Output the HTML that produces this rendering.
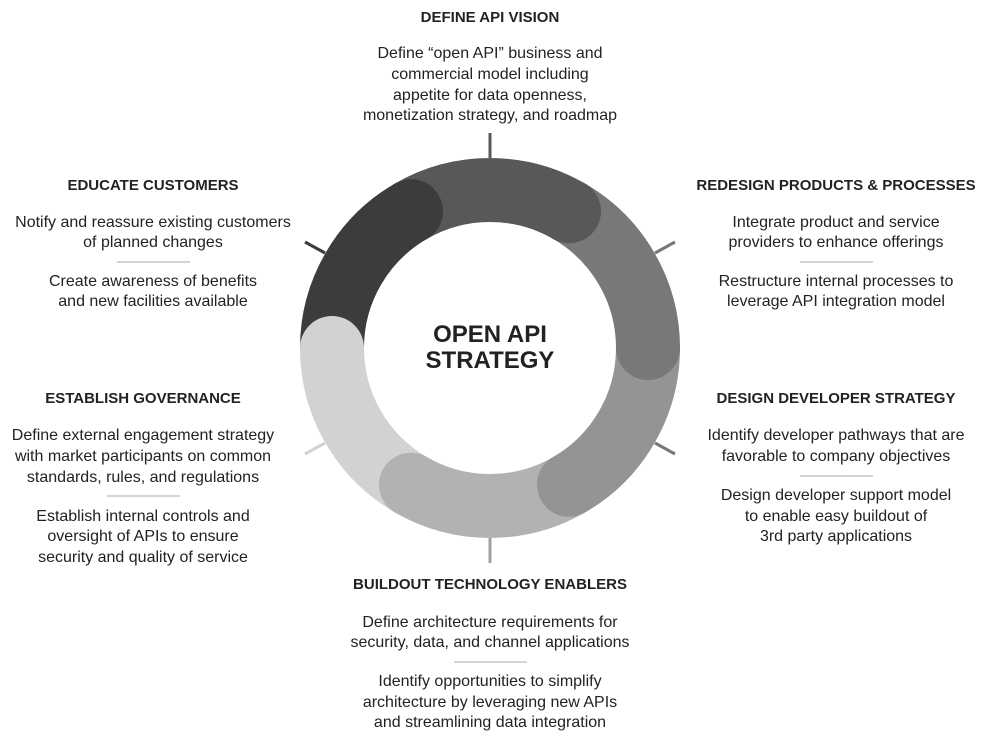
<!DOCTYPE html>
<html><head><meta charset="utf-8"><style>
html,body{margin:0;padding:0;background:#fff;}
svg{display:block;}
text{font-family:"Liberation Sans",sans-serif;fill:#222;}
.h{font-size:15px;font-weight:bold;}
.b{font-size:16px;}
</style></head><body>
<svg width="987" height="742" viewBox="0 0 987 742" xmlns="http://www.w3.org/2000/svg">
<g stroke-width="3">
<line x1="490" y1="133" x2="490" y2="158" stroke="#58585a"/>
<line x1="305" y1="242" x2="325" y2="253" stroke="#3c3c3e"/>
<line x1="675" y1="242" x2="655" y2="253" stroke="#78787a"/>
<line x1="305" y1="454" x2="325" y2="443" stroke="#d2d2d4"/>
<line x1="675" y1="454" x2="655" y2="443" stroke="#78787a"/>
<line x1="490" y1="538" x2="490" y2="563" stroke="#a0a0a2"/>
</g>
<g fill="none" stroke-width="64">
<path d="M 411 211.2 A 158 158 0 0 1 569 211.2" stroke="#58585a"/>
<path d="M 569 211.2 A 158 158 0 0 1 648 348" stroke="#78787a"/>
<path d="M 648 348 A 158 158 0 0 1 569 484.8" stroke="#949496"/>
<path d="M 569 484.8 A 158 158 0 0 1 411 484.8" stroke="#b2b2b4"/>
<path d="M 411 484.8 A 158 158 0 0 1 332 348" stroke="#d2d2d4"/>
<path d="M 332 348 A 158 158 0 0 1 411 211.2" stroke="#3c3c3e"/>
</g>
<circle cx="411" cy="211.2" r="32" fill="#3c3c3e"/>
<circle cx="569" cy="211.2" r="32" fill="#58585a"/>
<circle cx="648" cy="348" r="32" fill="#78787a"/>
<circle cx="569" cy="484.8" r="32" fill="#949496"/>
<circle cx="411" cy="484.8" r="32" fill="#b2b2b4"/>
<circle cx="332" cy="348" r="32" fill="#d2d2d4"/>

<text x="490" y="342" text-anchor="middle" style="font-size:24px;font-weight:bold">OPEN API</text>
<text x="490" y="368" text-anchor="middle" style="font-size:24px;font-weight:bold">STRATEGY</text>

<g stroke="#aaa" stroke-width="1">
<line x1="117" y1="262" x2="190" y2="262"/>
<line x1="800" y1="262" x2="873" y2="262"/>
<line x1="107" y1="496" x2="180" y2="496"/>
<line x1="800" y1="476" x2="873" y2="476"/>
<line x1="454" y1="662" x2="527" y2="662"/>
</g>

<g text-anchor="middle">
<text class="h" x="490" y="22">DEFINE API VISION</text>
<text class="b" x="490" y="58">Define “open API” business and</text>
<text class="b" x="490" y="79">commercial model including</text>
<text class="b" x="490" y="100">appetite for data openness,</text>
<text class="b" x="490" y="120">monetization strategy, and roadmap</text>

<text class="h" x="153" y="190">EDUCATE CUSTOMERS</text>
<text class="b" x="153" y="227">Notify and reassure existing customers</text>
<text class="b" x="153" y="247">of planned changes</text>
<text class="b" x="153" y="286">Create awareness of benefits</text>
<text class="b" x="153" y="306">and new facilities available</text>

<text class="h" x="836" y="190">REDESIGN PRODUCTS &amp; PROCESSES</text>
<text class="b" x="836" y="227">Integrate product and service</text>
<text class="b" x="836" y="247">providers to enhance offerings</text>
<text class="b" x="836" y="286">Restructure internal processes to</text>
<text class="b" x="836" y="306">leverage API integration model</text>

<text class="h" x="143" y="403">ESTABLISH GOVERNANCE</text>
<text class="b" x="143" y="440">Define external engagement strategy</text>
<text class="b" x="143" y="461">with market participants on common</text>
<text class="b" x="143" y="482">standards, rules, and regulations</text>
<text class="b" x="143" y="521">Establish internal controls and</text>
<text class="b" x="143" y="541">oversight of APIs to ensure</text>
<text class="b" x="143" y="562">security and quality of service</text>

<text class="h" x="836" y="403">DESIGN DEVELOPER STRATEGY</text>
<text class="b" x="836" y="440">Identify developer pathways that  are</text>
<text class="b" x="836" y="461">favorable to company objectives</text>
<text class="b" x="836" y="500">Design developer support model</text>
<text class="b" x="836" y="521">to enable easy buildout of</text>
<text class="b" x="836" y="541">3rd party applications</text>

<text class="h" x="490" y="589">BUILDOUT TECHNOLOGY ENABLERS</text>
<text class="b" x="490" y="627">Define architecture requirements for</text>
<text class="b" x="490" y="647">security, data, and channel applications</text>
<text class="b" x="490" y="686">Identify opportunities to simplify</text>
<text class="b" x="490" y="707">architecture by leveraging new APIs</text>
<text class="b" x="490" y="727">and streamlining data integration</text>
</g>
</svg>
</body></html>
